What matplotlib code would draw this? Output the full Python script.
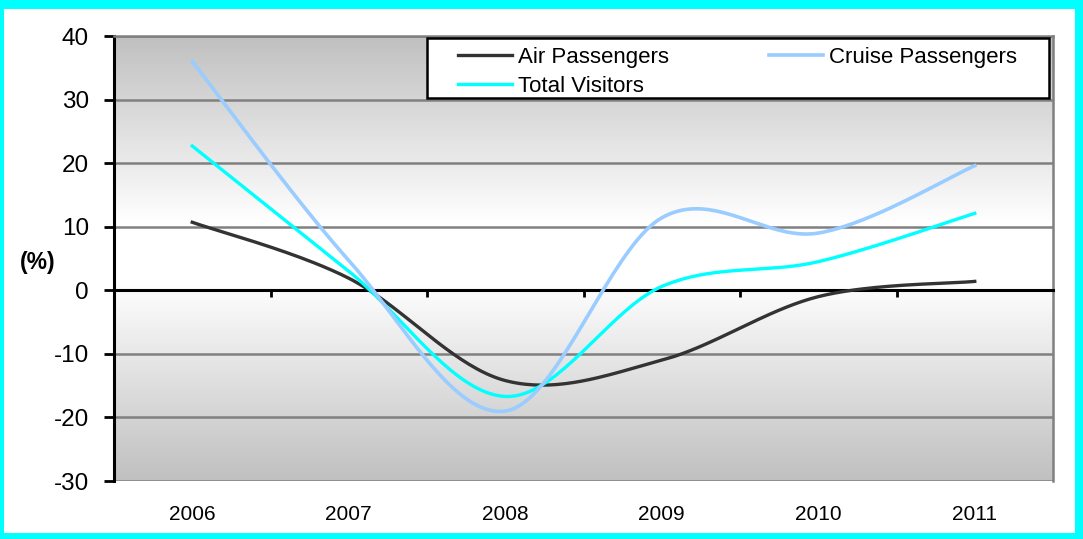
import numpy as np
import matplotlib.pyplot as plt
from matplotlib.patches import Rectangle

plt.rcParams['font.family'] = ['Liberation Sans', 'DejaVu Sans']
plt.rcParams['axes.unicode_minus'] = False

years = ['2006', '2007', '2008', '2009', '2010', '2011']
air = [10.7, 1.9, -14.2, -11.0, -1.0, 1.4]
cruise = [36.0, 4.7, -19.0, 11.4, 9.0, 19.6]
total = [22.7, 3.0, -16.7, 0.6, 4.5, 12.1]


def smooth(values, n=40):
    # Excel-like smoothed line (Catmull-Rom through the points)
    pts = np.column_stack([np.arange(len(values), dtype=float), np.array(values, float)])
    ext = np.vstack([pts[0], pts, pts[-1]])
    t = np.linspace(0, 1, n)[:, None]
    out = []
    for i in range(len(pts) - 1):
        p0, p3 = ext[i + 1], ext[i + 2]
        c1 = p0 + (ext[i + 2] - ext[i]) / 6
        c2 = p3 - (ext[i + 3] - ext[i + 1]) / 6
        seg = (1 - t) ** 3 * p0 + 3 * (1 - t) ** 2 * t * c1 + 3 * (1 - t) * t ** 2 * c2 + t ** 3 * p3
        out.append(seg if i == 0 else seg[1:])
    s = np.vstack(out)
    return s[:, 0], s[:, 1]


fig = plt.figure(figsize=(10.83, 5.39), dpi=100)
fig.patch.set_facecolor('#00FFFF')
fig.patches.append(Rectangle((4 / 1083, 6 / 539), 1071 / 1083, 524 / 539,
                             transform=fig.transFigure, facecolor='white',
                             edgecolor='none', zorder=-5))

ax = fig.add_axes([114 / 1083, 58 / 539, 939 / 1083, 445 / 539])

# gradient background of the plot area
frac = np.linspace(0, 1, 256)
level = np.interp(frac, [0, 0.45, 0.58, 1], [192, 255, 255, 192]) / 255
grad = np.repeat(level[:, None, None], 3, axis=2)
ax.imshow(grad, origin='lower', extent=[0, 1, 0, 1], transform=ax.transAxes,
          aspect='auto', zorder=-1)

ax.plot(*smooth(air), color='#333333', lw=2.4, label='Air Passengers', zorder=3)
ax.plot(*smooth(total), color='#00FFFF', lw=2.4, label='Total Visitors', zorder=3)
ax.plot(*smooth(cruise), color='#99CCFF', lw=2.6, label='Cruise Passengers', zorder=3)

ax.set_xlim(-0.5, len(years) - 0.5)
ax.set_ylim(-30, 40)
ax.set_yticks(range(-30, 41, 10))
ax.grid(axis='y', color='#808080', lw=1.8)
ax.set_axisbelow(True)

ax.spines['left'].set_color('black')
ax.spines['left'].set_linewidth(2.2)
for s in ['top', 'right']:
    ax.spines[s].set_color('#808080')
    ax.spines[s].set_linewidth(1.8)
ax.spines['bottom'].set_position(('data', 0))
ax.spines['bottom'].set_color('black')
ax.spines['bottom'].set_linewidth(2.2)

ax.set_xticks(np.arange(-0.5, len(years) - 1, 1))
ax.tick_params(axis='x', length=5, width=2, direction='out', labelbottom=False)
ax.tick_params(axis='y', length=7, width=2, direction='out', pad=11, labelsize=17.5)

sec = ax.secondary_xaxis('bottom')
sec.set_xticks(range(len(years)), years)
sec.tick_params(length=0, pad=17, labelsize=15)
sec.spines['bottom'].set_visible(False)

ax.set_ylabel('(%)', rotation=0, fontweight='bold', fontsize=16.5, va='center')
ax.yaxis.set_label_coords(-0.081, 0.49)

# legend box
ax.add_patch(Rectangle((313 / 939, 383 / 445), 622 / 939, 60 / 445,
                       transform=ax.transAxes, facecolor='white',
                       edgecolor='black', lw=1.8, zorder=4, clip_on=False))
leg = ax.legend(ncol=2, loc='upper left', mode='expand',
                bbox_to_anchor=(344 / 939, 434 / 445 - 0.1, 559 / 939, 0.1),
                borderaxespad=0, borderpad=0, fontsize=16, frameon=False,
                handlelength=2.45, handletextpad=0.25, labelspacing=0.36)
leg.set_zorder(5)

fig.savefig('out.png', dpi=100, facecolor=fig.get_facecolor())
